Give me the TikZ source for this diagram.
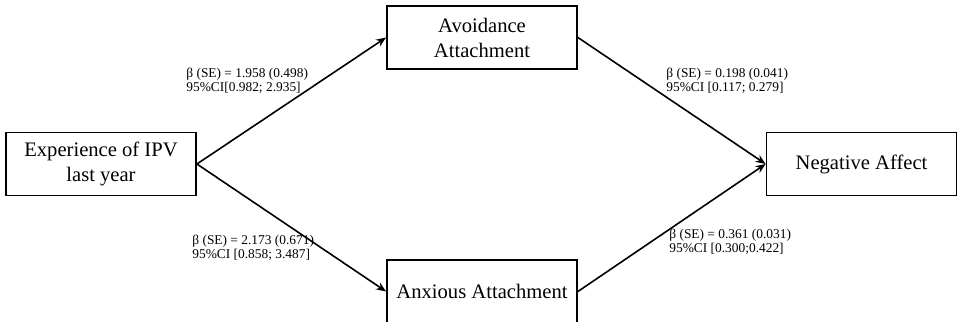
\documentclass[tikz,border=0pt]{standalone}
\usepackage{fontspec}
\setmainfont{Liberation Serif}
\usetikzlibrary{arrows.meta}
\tikzset{
  var/.style={draw, line width=0.9pt, minimum width=95pt, minimum height=31.5pt,
    align=center, inner sep=1pt, font=\fontsize{10.3}{12.5}\selectfont},
  coef/.style={anchor=west, align=left, inner sep=0pt,
    font=\fontsize{6.7}{6.8}\selectfont},
  path/.style={-{Stealth[length=5pt,width=4pt]}, line width=0.8pt}
}
\begin{document}
\begin{tikzpicture}[x=0.5pt,y=-0.5pt]
\useasboundingbox (0,0) rectangle (957,321);
\node[var] at (101,164) (ipv) {Experience of IPV\\last year};
\node[var] at (482,37.5) (avoid) {Avoidance\\Attachment};
\node[var] at (482,291.5) (anx) {Anxious Attachment};
\node[var] at (861.5,164) (neg) {Negative Affect};
\node[coef] at (186,81) (c1) {β (SE) = 1.958 (0.498)\\95\%CI[0.982; 2.935]};
\node[coef] at (666,81) (c2) {β (SE) = 0.198 (0.041)\\95\%CI [0.117; 0.279]};
\node[coef] at (192,248) (c3) {β (SE) = 2.173 (0.671)\\95\%CI [0.858; 3.487]};
\node[coef] at (669,242) (c4) {β (SE) = 0.361 (0.031)\\95\%CI [0.300;0.422]};
\draw[path] (ipv.east) -- (avoid.west);
\draw[path] (ipv.east) -- (anx.west);
\draw[path] (avoid.east) -- (neg.west);
\draw[path] (anx.east) -- (neg.west);
\end{tikzpicture}
\end{document}
